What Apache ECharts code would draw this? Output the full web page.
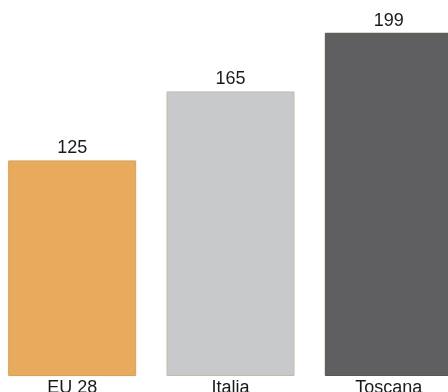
<!DOCTYPE html>
<html><head><meta charset="utf-8">
<script src="https://cdn.jsdelivr.net/npm/echarts@6/dist/echarts.min.js"></script>
<style>html,body{margin:0;padding:0;background:#fff;overflow:hidden;width:448px;height:392px;position:relative}#c{position:absolute;left:-7px;top:0;width:475px;height:392px}</style>
</head><body><div id="c"></div>
<script>
var categories = ['EU 28', 'Italia', 'Toscana'];
var values = [125, 165, 199];
var barColors = ['#E8AA5C', '#C8C9CB', '#5F5F61'];
var borderColors = ['#DDA050', '#C9B9A4', '#5C5548'];

var chart = echarts.init(document.getElementById('c'));
chart.setOption({
  animation: false,
  grid: { left: 0, right: 0, top: 0, bottom: 16, containLabel: false, outerBoundsMode: 'none' },
  xAxis: {
    type: 'category', data: categories,
    axisLine: { show: false }, axisTick: { show: false },
    axisLabel: { margin: 3, fontSize: 18, color: '#1a1a1a', fontFamily: 'Liberation Sans, Arial, sans-serif' }
  },
  yAxis: { type: 'value', min: 0, max: 218, show: false, splitLine: { show: false } },
  series: [{
    type: 'bar',
    barWidth: 128,
    data: values.map(function (v, i) {
      return { value: v, itemStyle: { color: barColors[i], borderColor: borderColors[i], borderWidth: 1 } };
    }),
    label: { show: true, position: 'top', distance: 3, fontSize: 18, color: '#1a1a1a', fontFamily: 'Liberation Sans, Arial, sans-serif' }
  }]
});
</script></body></html>
